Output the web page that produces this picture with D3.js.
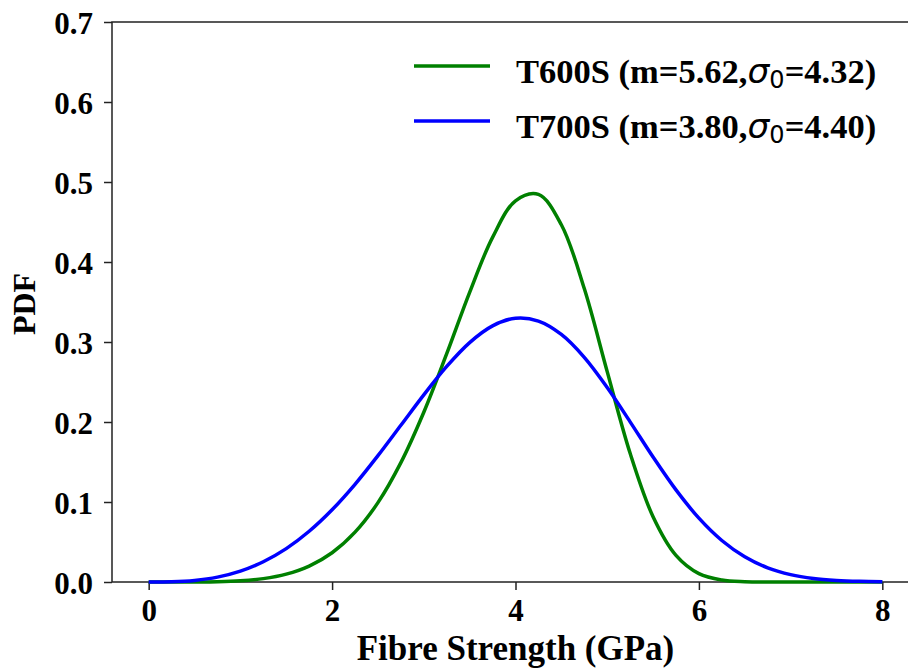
<!DOCTYPE html>
<html lang="en">
<head>
  <meta charset="UTF-8">
  <title>Weibull PDF</title>
  <script src="https://d3js.org/d3.v7.min.js"></script>
  <style>
    body { margin: 0; background: #fff; }
    svg text { font-family: "Liberation Serif", "Times New Roman", serif; font-weight: bold; fill: #000; }
  </style>
</head>
<body>
<div class="main"></div>
<script>

  // fibre strength (GPa) sample points
  const strength = [0, 0.25, 0.5, 0.75, 1, 1.25, 1.5, 1.75, 2, 2.25, 2.5, 2.75, 3, 3.25, 3.5, 3.75,
    4, 4.25, 4.5, 4.75, 5, 5.25, 5.5, 5.75, 6, 6.25, 6.5, 6.75, 7, 7.25, 7.5, 7.75, 8];

  // PDF
  const pdfT600S = [0, 0, 0.0001, 0.0004, 0.0015, 0.0042, 0.0098, 0.0199, 0.0366, 0.0623, 0.0992, 0.1492,
    0.2122, 0.2854, 0.3621, 0.4308, 0.4765, 0.4845, 0.4466, 0.3668, 0.2630, 0.1609, 0.0816, 0.0333,
    0.0105, 0.0025, 0.0004, 0, 0, 0, 0, 0, 0];
  const pdfT700S = [0, 0.0003, 0.0020, 0.0061, 0.0136, 0.0253, 0.0417, 0.0634, 0.0903, 0.1221, 0.1579,
    0.1959, 0.2340, 0.2695, 0.2993, 0.3202, 0.3297, 0.3262, 0.3095, 0.2809, 0.2431, 0.2002, 0.1562,
    0.1151, 0.0798, 0.0519, 0.0315, 0.0177, 0.0092, 0.0044, 0.0020, 0.0008, 0.0003];

  const seriesNames = ["T600S", "T700S"];
  const seriesParams = [["5.62", "4.32"], ["3.80", "4.40"]];
  const seriesColors = ["green", "blue"];

  const xTicks = [0, 2, 4, 6, 8];
  const yTicks = [0, 0.1, 0.2, 0.3, 0.4, 0.5, 0.6, 0.7];

  let width = 908, height = 668;
  let plotLeft = 112, plotTop = 22, plotRight = 919, plotBottom = 582;

  let svg = d3.select(".main").append("svg")
    .attr("width", width).attr("height", height)
    .style("display", "block");

  let xScale = d3.scaleLinear().domain([-0.4, 8.4]).range([plotLeft, plotRight]);
  let yScale = d3.scaleLinear().domain([0, 0.7]).range([plotBottom, plotTop]);

  let xAxis = d3.axisBottom(xScale).tickValues(xTicks).tickFormat(d3.format("d"))
    .tickSizeInner(8).tickSizeOuter(0);
  let yAxis = d3.axisLeft(yScale).tickValues(yTicks).tickFormat(d3.format(".1f"))
    .tickSizeInner(8).tickSizeOuter(0);

  let gx = svg.append("g").attr("transform", `translate(0,${plotBottom})`).call(xAxis);
  let gy = svg.append("g").attr("transform", `translate(${plotLeft},0)`).call(yAxis);
  [gx, gy].forEach(g => {
    g.select(".domain").remove();
    g.selectAll("line").attr("stroke", "#222").attr("stroke-width", 1.5);
    g.selectAll("text").attr("font-size", 31).attr("fill", "#000").attr("dy", 0);
  });
  gy.selectAll("text").attr("x", -19).attr("y", 11);
  gx.selectAll("text").attr("y", 39);

  // box
  svg.append("rect")
    .attr("x", plotLeft).attr("y", plotTop)
    .attr("width", plotRight - plotLeft).attr("height", plotBottom - plotTop)
    .attr("fill", "none").attr("stroke", "#222").attr("stroke-width", 1.5);

  let line = d3.line()
    .x((d, i) => xScale(strength[i]))
    .y(d => yScale(d))
    .curve(d3.curveCatmullRom);

  [pdfT600S, pdfT700S].forEach((vals, k) => {
    svg.append("path")
      .datum(vals)
      .attr("d", line)
      .attr("fill", "none")
      .attr("stroke", seriesColors[k])
      .attr("stroke-width", 3.5);
  });

  // legend
  let legend = svg.append("g");
  seriesNames.forEach((name, k) => {
    let y = 66 + k * 55;
    legend.append("line")
      .attr("x1", 414).attr("x2", 490).attr("y1", y).attr("y2", y)
      .attr("stroke", seriesColors[k]).attr("stroke-width", 3.5);
    let t = legend.append("text").attr("x", 516).attr("y", y + 17).attr("font-size", 34.5);
    t.append("tspan").text(`${name} (m=${seriesParams[k][0]},`);
    t.append("tspan").text("σ").attr("font-style", "italic").attr("font-weight", "normal")
      .style("font-family", "DejaVu Sans");
    t.append("tspan").text("0").attr("font-size", 24).attr("dy", 5).attr("font-weight", "normal")
      .style("font-family", "DejaVu Sans");
    t.append("tspan").text(`=${seriesParams[k][1]})`).attr("dy", -5);
  });

  // axis titles
  svg.append("text")
    .attr("x", (plotLeft + plotRight) / 2).attr("y", 660)
    .attr("text-anchor", "middle").attr("font-size", 35)
    .text("Fibre Strength (GPa)");

  svg.append("text")
    .attr("transform", `translate(35,304) rotate(-90)`)
    .attr("text-anchor", "middle").attr("font-size", 32)
    .text("PDF");

</script>
</body>
</html>
